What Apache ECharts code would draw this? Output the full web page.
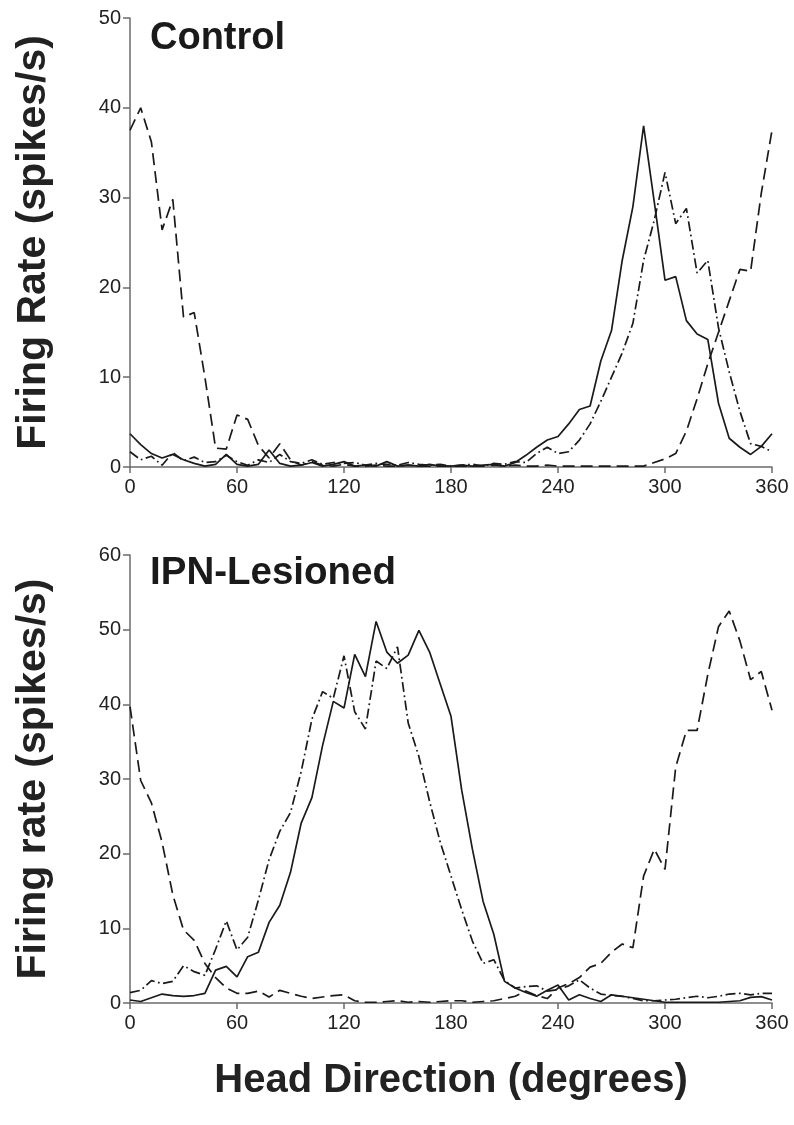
<!DOCTYPE html>
<html>
<head>
<meta charset="utf-8">
<script src="https://cdn.jsdelivr.net/npm/echarts@6/dist/echarts.min.js"></script>
<style>html,body{margin:0;padding:0;background:#fff}#c{width:794px;height:1125px}</style>
</head>
<body>
<div id="c"></div>
<script>
// Head direction bins (degrees)
const angles = [0,6,12,18,24,30,36,42,48,54,60,66,72,78,84,90,96,102,108,114,120,126,132,138,144,150,156,162,168,174,180,186,192,198,204,210,216,222,228,234,240,246,252,258,264,270,276,282,288,294,300,306,312,318,324,330,336,342,348,354,360];
const xTicks = [0,60,120,180,240,300,360];

// Control cells
const ctrlSolid = [3.7,2.5,1.5,1.0,1.4,0.8,0.4,0.1,0.3,1.4,0.3,0.1,0.3,1.9,0.4,0.1,0.2,0.5,0.1,0.3,0.6,0.1,0.2,0.1,0.6,0.1,0.2,0.1,0.3,0.1,0.1,0.2,0.1,0.2,0.3,0.1,0.5,1.3,2.2,3.0,3.4,4.8,6.4,6.8,11.8,15.2,23,29,38,29.5,20.8,21.2,16.3,14.8,14.2,7.1,3.2,2.2,1.4,2.3,3.7];
const ctrlDash = [37.5,40,36.2,26.4,29.8,16.7,17.2,10,2.1,2.0,5.8,5.3,2.4,1.0,2.6,0.8,0.2,0.6,0.2,0.1,0.3,0.1,0.1,0.2,0.1,0.1,0.2,0.1,0.1,0.1,0.1,0.1,0.1,0.1,0.2,0.1,0.2,0.1,0.1,0.2,0.1,0.1,0.1,0.1,0.1,0.1,0.1,0.1,0.1,0.5,0.9,1.5,4.0,7.6,11.5,15.0,18.5,22,21.8,30.5,37.5];
const ctrlDot = [1.7,0.8,1.2,0.2,1.6,0.7,1.1,0.5,0.6,1.3,0.6,0.2,0.8,0.5,1.4,0.6,0.4,0.8,0.3,0.5,0.4,0.5,0.2,0.4,0.3,0.2,0.5,0.3,0.2,0.3,0.1,0.2,0.3,0.1,0.4,0.3,0.6,0.5,1.5,2.2,1.5,1.7,3.0,4.8,7.3,10.0,12.7,16.0,23,27.5,32.8,27.1,28.8,21.6,23,15.5,10.6,6.2,2.6,2.3,1.7];

// IPN-lesioned cells
const ipnSolid = [0.4,0.2,0.7,1.2,1.0,0.9,1.0,1.3,4.4,4.9,3.5,6.2,6.8,10.8,13.1,17.5,24.1,27.5,34.5,40.4,39.5,46.7,43.7,51.1,47,45.5,46.6,49.9,47,42.7,38.4,28.5,20.6,13.6,9.2,2.9,2.0,1.4,0.9,1.7,2.4,0.4,1.1,0.6,0.2,1.1,0.9,0.7,0.5,0.3,0.1,0.1,0.1,0.1,0.1,0.1,0.2,0.3,0.75,0.85,0.4];
const ipnDash = [39.7,29.8,26.8,21.5,14.5,9.8,8.4,5.3,3.4,2.0,1.3,1.3,1.6,0.8,1.7,1.3,0.9,0.6,0.8,1.0,1.1,0.3,0.1,0.1,0.2,0.3,0.1,0.2,0.1,0.2,0.3,0.3,0.1,0.2,0.3,0.6,0.9,1.6,1.0,0.6,2.0,2.6,3.4,4.8,5.3,6.8,7.9,7.4,17,20.6,17.9,31.6,36.5,36.5,44,50.4,52.5,48.5,43.3,44.4,39.2];
const ipnDot = [1.4,1.7,3.0,2.6,2.9,5.0,4.2,3.7,7.2,11.0,7.1,8.8,13.8,19.2,23,25.5,31,38,41.7,40.8,46.5,39,36.7,45.8,44.8,47.7,37.5,33,27,21.5,17,12.5,8.3,5.3,5.8,3.0,2.0,2.2,2.3,1.6,1.8,2.3,3.1,2.0,1.2,1.0,0.9,0.6,0.3,0.3,0.4,0.5,0.7,0.9,0.7,0.9,1.2,1.3,1.1,1.3,1.3];

const panelTitles = ['Control', 'IPN-Lesioned'];
const yNames = ['Firing Rate (spikes/s)', 'Firing rate (spikes/s)'];
const yMax = [50, 60];
const xName = 'Head Direction (degrees)';

const pair = (ys) => angles.map((a, i) => [a, ys[i]]);
const FONT = "'Liberation Sans', Arial, Helvetica, sans-serif";
const AX = '#6b6b6b';

function xAx(idx, withName) {
  return {
    type: 'value', gridIndex: idx, min: 0, max: 360, interval: 60,
    axisLine: { show: true, lineStyle: { color: AX, width: 1.5 } },
    axisTick: { show: true, inside: false, length: 6, lineStyle: { color: AX, width: 1.5 } },
    axisLabel: { color: '#222', fontSize: 20, fontFamily: FONT, margin: 10,
      formatter: v => xTicks.indexOf(v) >= 0 ? String(v) : '' },
    splitLine: { show: false },
    name: withName ? xName : '', nameLocation: 'middle', nameGap: 58,
    nameTextStyle: { fontSize: 40, fontWeight: 'bold', color: '#222', fontFamily: FONT }
  };
}
function yAx(idx) {
  return {
    type: 'value', gridIndex: idx, min: 0, max: yMax[idx], interval: 10,
    axisLine: { show: true, lineStyle: { color: AX, width: 1.5 } },
    axisTick: { show: true, inside: false, length: 7, lineStyle: { color: AX, width: 1.5 } },
    axisLabel: { color: '#222', fontSize: 20, fontFamily: FONT, margin: 9 },
    splitLine: { show: false },
    name: yNames[idx], nameLocation: 'middle', nameRotate: 90, nameGap: 76,
    nameTextStyle: { fontSize: 41, fontWeight: 'bold', color: '#222', fontFamily: FONT }
  };
}
const styles = {
  solid: { type: 'solid', width: 1.7, color: '#1a1a1a' },
  dash: { type: [12, 6], width: 1.7, color: '#1a1a1a' },
  dot: { type: [10, 3.5, 1.7, 3.5], width: 1.7, color: '#1a1a1a' }
};
function s(idx, data, st) {
  return { type: 'line', xAxisIndex: idx, yAxisIndex: idx, data: pair(data),
    showSymbol: false, symbol: 'none', lineStyle: styles[st], silent: true, animation: false };
}

const chart = echarts.init(document.getElementById('c'), null, { renderer: 'canvas' });
chart.setOption({
  backgroundColor: '#fff',
  animation: false,
  title: [
    { text: panelTitles[0], left: 145, top: 15, textStyle: { fontSize: 38, fontWeight: 'bold', color: '#1a1a1a', fontFamily: FONT } },
    { text: panelTitles[1], left: 145, top: 549, textStyle: { fontSize: 38.5, fontWeight: 'bold', color: '#1a1a1a', fontFamily: FONT } }
  ],
  grid: [
    { left: 130, top: 18, width: 642, height: 449 },
    { left: 130, top: 555, width: 642, height: 448 }
  ],
  xAxis: [xAx(0, false), xAx(1, true)],
  yAxis: [yAx(0), yAx(1)],
  series: [
    s(0, ctrlSolid, 'solid'), s(0, ctrlDash, 'dash'), s(0, ctrlDot, 'dot'),
    s(1, ipnSolid, 'solid'), s(1, ipnDash, 'dash'), s(1, ipnDot, 'dot')
  ]
});
</script>
</body>
</html>
